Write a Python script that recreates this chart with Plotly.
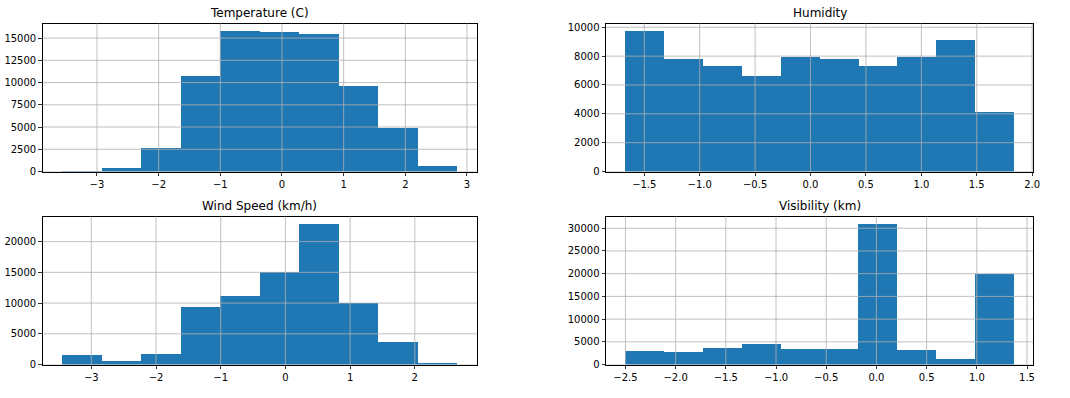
import numpy as np
import plotly.graph_objects as go

# ---------------- data ----------------
titles = ["Temperature (C)", "Humidity", "Wind Speed (km/h)", "Visibility (km)"]

temp_edges = [-3.56, -2.92, -2.28, -1.64, -1.00, -0.36, 0.28, 0.92, 1.56, 2.20, 2.84]
temp_counts = [30, 370, 2670, 10760, 15840, 15730, 15510, 9590, 4940, 590]

hum_edges = [-1.670, -1.320, -0.969, -0.619, -0.268, 0.082, 0.433, 0.783, 1.134, 1.484, 1.834]
hum_counts = [9770, 7810, 7340, 6590, 7950, 7810, 7340, 7970, 9100, 4150]

wind_edges = [-3.446, -2.836, -2.226, -1.616, -1.006, -0.396, 0.214, 0.824, 1.434, 2.044, 2.654]
wind_counts = [1590, 640, 1750, 9390, 11140, 15010, 22920, 9970, 3660, 320]

vis_edges = [-2.500, -2.113, -1.727, -1.340, -0.953, -0.566, -0.180, 0.207, 0.594, 0.981, 1.368]
vis_counts = [3010, 2800, 3660, 4520, 3440, 3440, 31010, 3230, 1290, 19890]

temp_xticks = [-3, -2, -1, 0, 1, 2, 3]
temp_yticks = [0, 2500, 5000, 7500, 10000, 12500, 15000]
hum_xticks = [-1.5, -1.0, -0.5, 0.0, 0.5, 1.0, 1.5, 2.0]
hum_yticks = [0, 2000, 4000, 6000, 8000, 10000]
wind_xticks = [-3, -2, -1, 0, 1, 2]
wind_yticks = [0, 5000, 10000, 15000, 20000]
vis_xticks = [-2.5, -2.0, -1.5, -1.0, -0.5, 0.0, 0.5, 1.0, 1.5]
vis_yticks = [0, 5000, 10000, 15000, 20000, 25000, 30000]

# ---------------- layout geometry ----------------
W, H = 1070, 398
col_px = [(43, 480), (610, 1040)]
row_px = [(22, 173), (219, 370)]

panels = [
    (titles[0], temp_edges, temp_counts, temp_xticks, temp_yticks, 0, 0, 0),
    (titles[1], hum_edges, hum_counts, hum_xticks, hum_yticks, 1, 0, 1),
    (titles[2], wind_edges, wind_counts, wind_xticks, wind_yticks, 0, 1, 0),
    (titles[3], vis_edges, vis_counts, vis_xticks, vis_yticks, 1, 1, 1),
]

BLUE = "#1f77b4"
GRID = "#b0b0b0"
FONT = "DejaVu Sans"


def fmt_tick(v, decimals):
    s = f"{v:.{decimals}f}"
    return s.replace("-", "\u2212")


fig = go.Figure()
shapes = []
annotations = []
layout = {}

for i, (title, edges, counts, xt, yt, xdec, r, c) in enumerate(panels):
    n = i + 1
    xa = "x" if n == 1 else f"x{n}"
    ya = "y" if n == 1 else f"y{n}"
    e = np.array(edges)
    centers = (e[:-1] + e[1:]) / 2
    widths = e[1:] - e[:-1]
    fig.add_trace(go.Bar(
        x=centers, y=counts, width=widths,
        marker=dict(color=BLUE, line=dict(width=0)),
        xaxis=xa, yaxis=ya, showlegend=False, hoverinfo="x+y",
    ))

    x0p, x1p = col_px[c]
    y0p, y1p = row_px[r]
    xdom = [x0p / W, x1p / W]
    ydom = [(H - y1p) / H, (H - y0p) / H]

    span = e[-1] - e[0]
    xr = [e[0] - 0.05 * span, e[-1] + 0.05 * span]
    yr = [0, max(counts) * 1.05]

    axis_common = dict(
        showline=True, linecolor="black", linewidth=1, mirror=True,
        ticks="outside", ticklen=3.5, tickwidth=0.8, tickcolor="black",
        showgrid=False, zeroline=False,
        tickfont=dict(family=FONT, size=10, color="black"),
        fixedrange=True,
    )
    layout["xaxis" if n == 1 else f"xaxis{n}"] = dict(
        domain=xdom, range=xr, anchor=ya,
        tickmode="array", tickvals=xt,
        ticktext=[fmt_tick(v, xdec) for v in xt],
        **axis_common,
    )
    layout["yaxis" if n == 1 else f"yaxis{n}"] = dict(
        domain=ydom, range=yr, anchor=xa,
        tickmode="array", tickvals=yt,
        ticktext=[fmt_tick(v, 0) for v in yt],
        **axis_common,
    )

    # grid lines drawn above bars (as matplotlib does)
    for v in xt:
        if xr[0] <= v <= xr[1]:
            shapes.append(dict(type="line", xref=xa, yref=f"{ya} domain",
                               x0=v, x1=v, y0=0, y1=1, layer="above",
                               line=dict(color=GRID, width=0.8)))
    for v in yt:
        if yr[0] <= v <= yr[1]:
            shapes.append(dict(type="line", xref=f"{xa} domain", yref=ya,
                               x0=0, x1=1, y0=v, y1=v, layer="above",
                               line=dict(color=GRID, width=0.8)))

    annotations.append(dict(
        text=title, xref="paper", yref="paper",
        x=(xdom[0] + xdom[1]) / 2, y=ydom[1],
        xanchor="center", yanchor="bottom", yshift=2, showarrow=False,
        font=dict(family=FONT, size=12, color="black"),
    ))

fig.update_layout(
    width=W, height=H,
    margin=dict(l=0, r=0, t=0, b=0),
    paper_bgcolor="white", plot_bgcolor="white",
    bargap=0, showlegend=False,
    shapes=shapes, annotations=annotations,
    font=dict(family=FONT, size=10, color="black"),
    **layout,
)

fig.write_html(
    "out.html",
    config={"displayModeBar": False, "staticPlot": True},
    post_script="document.body.style.margin='0';document.body.style.overflow='hidden';",
)
